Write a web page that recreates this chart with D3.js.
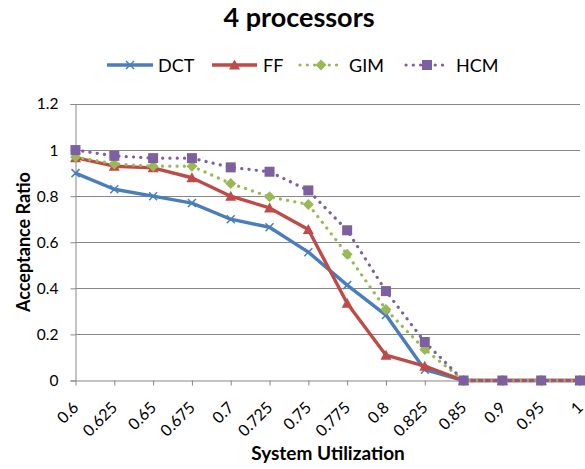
<!DOCTYPE html>
<html>
<head>
<meta charset="utf-8">
<script src="https://cdn.jsdelivr.net/npm/d3@7"></script>
<style>
  html, body { margin: 0; padding: 0; background: #fff; }
  svg { display: block; }
  text { font-family: Lato, "Open Sans", sans-serif; fill: #000; }
</style>
</head>
<body>
<svg id="chart" width="585" height="469"></svg>
<script>
// System utilization levels (category axis)
const categories = ["0.6", "0.625", "0.65", "0.675", "0.7", "0.725", "0.75", "0.775", "0.8", "0.825", "0.85", "0.9", "0.95", "1"];

// Acceptance ratio per scheduling approach
const dct = [0.90, 0.83, 0.80, 0.77, 0.70, 0.665, 0.557, 0.414, 0.284, 0.047, 0, 0, 0, 0];
const ff  = [0.967, 0.93, 0.923, 0.88, 0.80, 0.749, 0.655, 0.335, 0.11, 0.062, 0, 0, 0, 0];
const gim = [0.97, 0.94, 0.93, 0.93, 0.855, 0.797, 0.764, 0.548, 0.308, 0.135, 0, 0, 0, 0];
const hcm = [1.0, 0.975, 0.965, 0.965, 0.925, 0.906, 0.825, 0.652, 0.388, 0.167, 0, 0, 0, 0];

const yTicks = [0, 0.2, 0.4, 0.6, 0.8, 1, 1.2];

const series = [
  { name: "DCT", values: dct, color: "#4A7EBB", dotted: false, marker: "x" },
  { name: "FF",  values: ff,  color: "#BE4B48", dotted: false, marker: "triangle" },
  { name: "GIM", values: gim, color: "#98B954", dotted: true,  marker: "diamond" },
  { name: "HCM", values: hcm, color: "#7D60A0", dotted: true,  marker: "square" }
];

const svg = d3.select("#chart");
const plotLeft = 75.5, plotRight = 580, plotTop = 104, plotBottom = 380.5;

const x = d3.scalePoint().domain(categories).range([plotLeft, plotRight]);
const y = d3.scaleLinear().domain([0, 1.2]).range([plotBottom, plotTop]);

// Title
svg.append("text")
  .attr("x", 299).attr("y", 27)
  .attr("text-anchor", "middle")
  .style("font-size", "27px").style("font-weight", "bold")
  .text("4 processors");

// Horizontal gridlines
svg.append("g")
  .selectAll("line")
  .data(yTicks.filter(d => d > 0))
  .join("line")
  .attr("x1", plotLeft).attr("x2", plotRight)
  .attr("y1", d => Math.round(y(d)) + 0.5).attr("y2", d => Math.round(y(d)) + 0.5)
  .attr("stroke", "#878787").attr("stroke-width", 1);

// Y axis
const yAxis = svg.append("g")
  .attr("transform", `translate(${plotLeft},0)`)
  .call(d3.axisLeft(y).tickValues(yTicks).tickSize(5).tickPadding(12)
    .tickFormat(d => d3.format("~g")(d)));
yAxis.select(".domain").attr("stroke", "#878787");
yAxis.selectAll(".tick line").attr("stroke", "#878787");
yAxis.selectAll(".tick text").style("font-size", "15.5px").style("font-family", "Lato, sans-serif").attr("fill", "#000");

// X axis
const xAxis = svg.append("g")
  .attr("transform", `translate(0,${plotBottom})`)
  .call(d3.axisBottom(x).tickSize(5).tickSizeOuter(0));
xAxis.select(".domain").attr("stroke", "#878787");
xAxis.selectAll(".tick line").attr("stroke", "#878787");
xAxis.selectAll(".tick text")
  .attr("text-anchor", "end")
  .attr("dy", null).attr("y", null)
  .attr("dominant-baseline", "central")
  .attr("transform", "translate(-1,23.5) rotate(-45)")
  .style("font-size", "16px").style("font-family", "Lato, sans-serif").attr("fill", "#000");

// Axis titles
svg.append("text")
  .attr("transform", "translate(30,242) rotate(-90)")
  .attr("text-anchor", "middle")
  .style("font-size", "18px").style("font-weight", "bold")
  .text("Acceptance Ratio");

svg.append("text")
  .attr("x", 328).attr("y", 460)
  .attr("text-anchor", "middle")
  .style("font-size", "19px").style("font-weight", "bold")
  .text("System Utilization");

// Marker drawing
function drawMarker(g, type, color) {
  if (type === "x") {
    g.append("path").attr("d", "M-4,-4L4,4M-4,4L4,-4")
      .attr("stroke", color).attr("stroke-width", 1.5).attr("fill", "none");
  } else if (type === "triangle") {
    g.append("path").attr("d", "M0,-5.5L5.5,4.5L-5.5,4.5Z").attr("fill", color);
  } else if (type === "diamond") {
    g.append("path").attr("d", "M0,-5.5L5.5,0L0,5.5L-5.5,0Z").attr("fill", color);
  } else if (type === "square") {
    g.append("rect").attr("x", -5).attr("y", -5).attr("width", 10).attr("height", 10).attr("fill", color);
  }
}

const line = d3.line().x((d, i) => x(categories[i])).y(d => y(d));

series.forEach(s => {
  const g = svg.append("g");
  g.append("path")
    .datum(s.values)
    .attr("d", line)
    .attr("fill", "none")
    .attr("stroke", s.color)
    .attr("stroke-width", s.dotted ? 3.2 : 3.4)
    .attr("stroke-linejoin", "round")
    .attr("stroke-linecap", s.dotted ? "round" : "butt")
    .attr("stroke-dasharray", s.dotted ? "0.1 7.2" : null);
  s.values.forEach((v, i) => {
    const m = g.append("g").attr("transform", `translate(${x(categories[i])},${y(v)})`);
    drawMarker(m, s.marker, s.color);
  });
});

// Legend
const legendItems = [
  { s: series[0], x0: 107, x1: 153, tx: 158 },
  { s: series[1], x0: 212, x1: 257, tx: 263 },
  { s: series[2], x0: 300, x1: 342, tx: 349 },
  { s: series[3], x0: 406, x1: 448, tx: 456 }
];
const ly = 65;
legendItems.forEach(it => {
  const g = svg.append("g");
  g.append("line")
    .attr("x1", it.x0).attr("x2", it.x1).attr("y1", ly).attr("y2", ly)
    .attr("stroke", it.s.color)
    .attr("stroke-width", it.s.dotted ? 3.2 : 3.4)
    .attr("stroke-linecap", it.s.dotted ? "round" : "butt")
    .attr("stroke-dasharray", it.s.dotted ? "0.1 7.2" : null);
  const m = g.append("g").attr("transform", `translate(${(it.x0 + it.x1) / 2},${ly})`);
  drawMarker(m, it.s.marker, it.s.color);
  g.append("text")
    .attr("x", it.tx).attr("y", ly + 7)
    .style("font-size", "18px")
    .text(it.s.name);
});
</script>
</body>
</html>
